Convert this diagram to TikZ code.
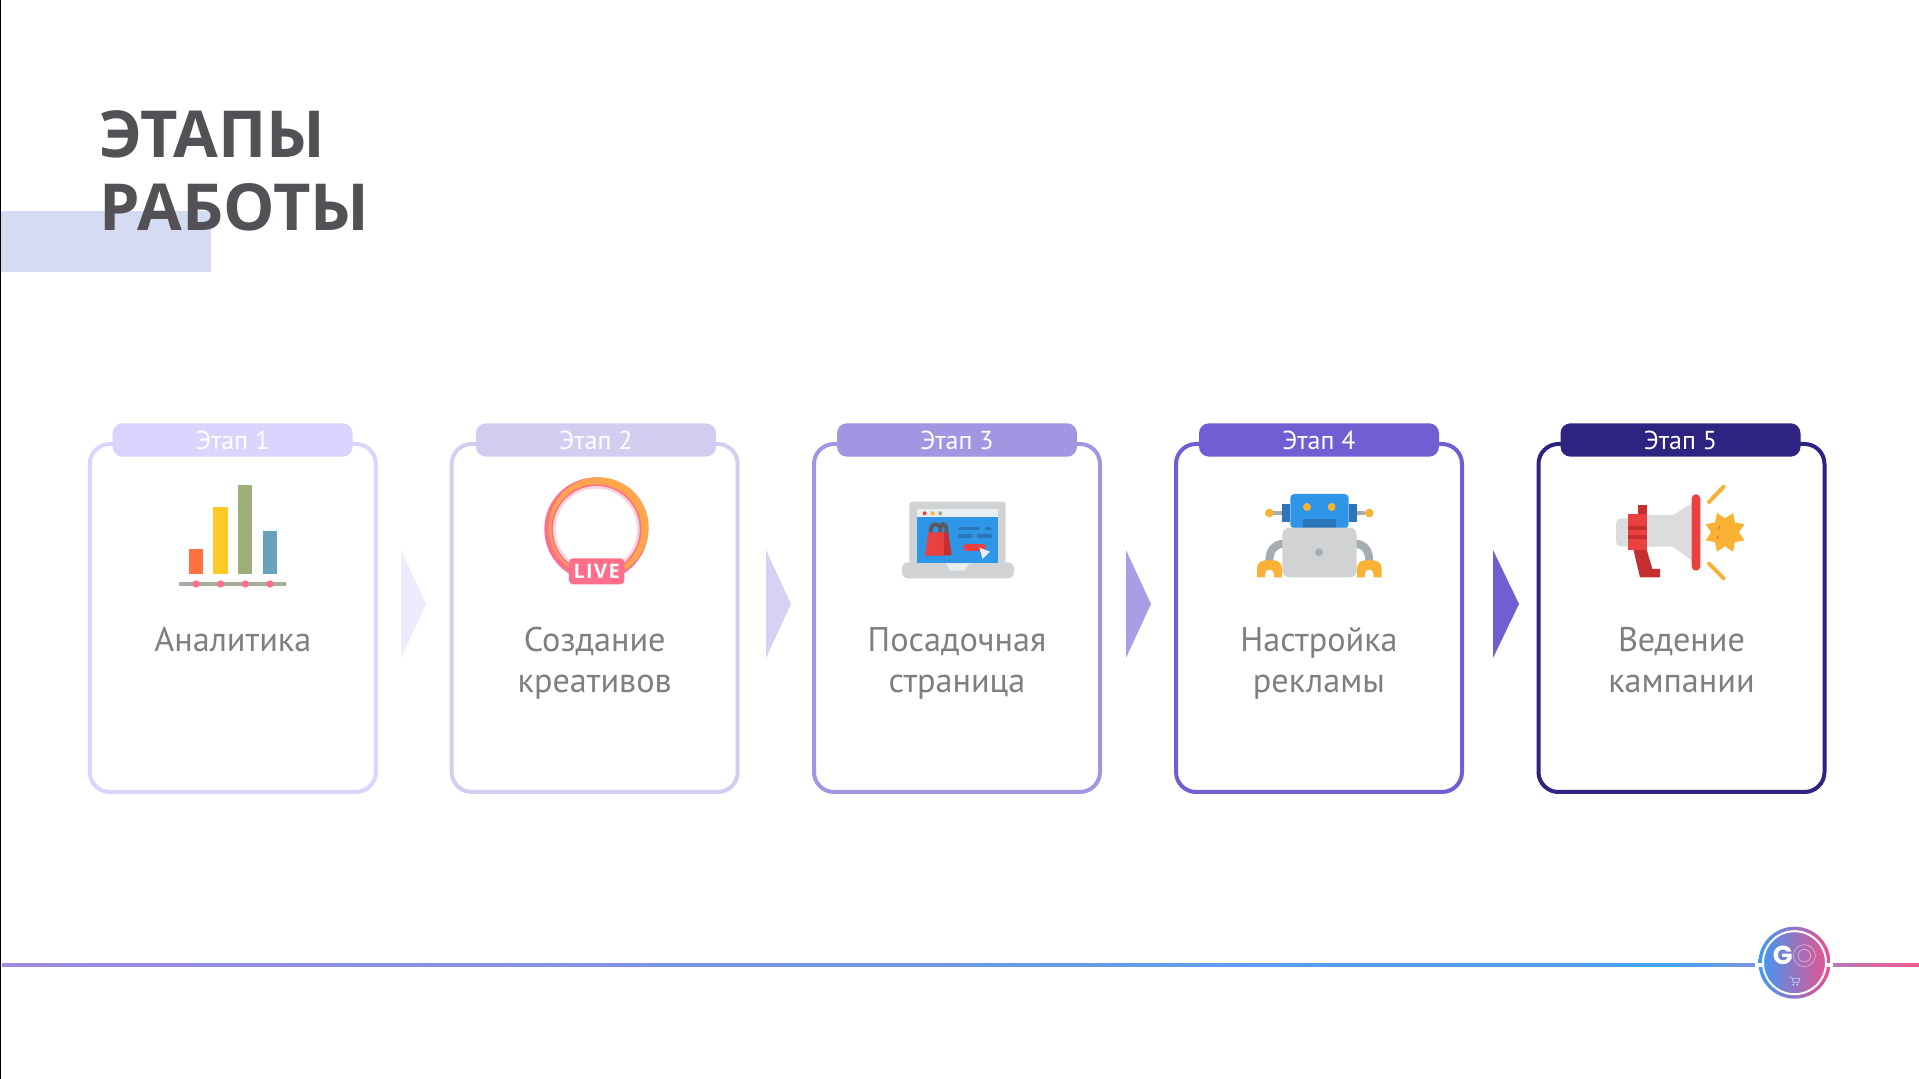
\documentclass[tikz,border=0pt]{standalone}
\usepackage{fontspec}
\setmainfont{PT Sans}
\newfontfamily\headfont{Open Sans}
\newfontfamily\livefont[LetterSpace=7]{Open Sans}
\newfontfamily\logofont{Poppins}
\usetikzlibrary{shapes.geometric}
\definecolor{stepa}{HTML}{DAD4FE}
\definecolor{stepb}{HTML}{D2CEF2}
\definecolor{stepc}{HTML}{A296E2}
\definecolor{stepd}{HTML}{6F5FD2}
\definecolor{stepe}{HTML}{2E2380}
\definecolor{arrowa}{HTML}{EEEBFC}
\definecolor{arrowb}{HTML}{D5D2F3}
\definecolor{arrowc}{HTML}{A99DE6}
\definecolor{headtext}{HTML}{535156}
\definecolor{headband}{HTML}{D5DBF3}
\definecolor{captext}{HTML}{7F7F7F}
\definecolor{iconblue}{HTML}{2F95E6}
\definecolor{icondeep}{HTML}{2A76B8}
\definecolor{icongrey}{HTML}{D0D2D4}
\definecolor{iconpale}{HTML}{DADCDE}
\definecolor{iconsheet}{HTML}{E8EEF2}
\definecolor{iconslate}{HTML}{A5ADB0}
\definecolor{iconorange}{HTML}{F9B233}
\definecolor{iconred}{HTML}{EA4040}
\definecolor{icondark}{HTML}{C62F2F}
\definecolor{iconhandle}{HTML}{5A5A60}
\definecolor{barorange}{HTML}{FF7043}
\definecolor{baryellow}{HTML}{FFCA28}
\definecolor{bargreen}{HTML}{9CAF78}
\definecolor{barblue}{HTML}{6AA2BC}
\definecolor{baraxis}{HTML}{A5AFA0}
\definecolor{livepink}{HTML}{FF6F8B}
\definecolor{liveorange}{HTML}{FFA64D}
\definecolor{livepale}{HTML}{F8D3D8}
\definecolor{rulestart}{HTML}{A08ADF}
\definecolor{rulemid}{HTML}{46A3F2}
\definecolor{ruleend}{HTML}{7D93DD}
\definecolor{ruleright}{HTML}{B87AB8}
\definecolor{ruletail}{HTML}{F25A8C}
\definecolor{logoleft}{HTML}{3B9BF8}
\definecolor{logomid}{HTML}{2460E8}
\definecolor{logoright}{HTML}{EE4F8A}
\definecolor{logoline}{HTML}{F3C3DA}
\definecolor{logocart}{HTML}{BFDCFF}
\begin{document}
\begin{tikzpicture}[x=0.5pt,y=-0.5pt]
	\tikzstyle{card}=[rectangle,rounded corners=10pt,line width=2pt,fill=white,minimum width=143pt,minimum height=174pt,inner sep=0pt]
	\tikzstyle{tab}=[rectangle,rounded corners=5pt,minimum width=120pt,minimum height=16.7pt,inner sep=0pt,text=white,font=\fontsize{13}{15}\selectfont]
	\tikzstyle{caption}=[anchor=base,align=center,inner sep=0pt,text=captext,font=\fontsize{17.1}{20.6}\selectfont]
	\tikzstyle{headline}=[anchor=base west,inner sep=0pt,text=headtext,font=\headfont\bfseries\fontsize{32.4}{36}\selectfont]
	\useasboundingbox (0,0) rectangle (1919,1079);
	\fill[white] (0,0) rectangle (1919,1079);
	\fill[black] (0,0) rectangle (1.4,1079);
	% heading
	\fill[headband] (1.4,210.7) rectangle (211,271.7);
	\node [headline] (head1) at (99.5,157.7) {ЭТАПЫ};
	\node [headline] (head2) at (99.5,231) {РАБОТЫ};
	% cards
	\node [card,draw=stepa] (card1) at (232.8,618) {};
	\node [card,draw=stepb] (card2) at (594.7,618) {};
	\node [card,draw=stepc] (card3) at (957,618) {};
	\node [card,draw=stepd] (card4) at (1319,618) {};
	\node [card,draw=stepe] (card5) at (1681.5,618) {};
	\node [tab,fill=stepa] (tab1) at (232.7,440) {Этап 1};
	\node [tab,fill=stepb] (tab2) at (596,440) {Этап 2};
	\node [tab,fill=stepc] (tab3) at (957,440) {Этап 3};
	\node [tab,fill=stepd] (tab4) at (1319,440) {Этап 4};
	\node [tab,fill=stepe] (tab5) at (1680.5,440) {Этап 5};
	\node [caption] (text1) at (232.8,651.3) {Аналитика};
	\node [caption] (text2) at (594.7,692.3) {Создание\\креативов};
	\node [caption] (text3) at (957,692.3) {Посадочная\\страница};
	\node [caption] (text4) at (1319,692.3) {Настройка\\рекламы};
	\node [caption] (text5) at (1681.5,692.3) {Ведение\\кампании};
	% arrows
	\fill[arrowa] (401,550) -- (426,604) -- (401,658) -- cycle;
	\fill[arrowb] (766,550) -- (791,604) -- (766,658) -- cycle;
	\fill[arrowc] (1126,550) -- (1151,604) -- (1126,658) -- cycle;
	\fill[stepd] (1493,550) -- (1519,604) -- (1493,658) -- cycle;
	% chart icon
	\begin{scope}[shift={(150,470)},scale=0.3333]
		\fill[barorange] (117,237) rectangle (158,311);
		\fill[baryellow] (190,110) rectangle (233,311);
		\fill[bargreen] (265,46) rectangle (307,311);
		\fill[barblue] (339,184) rectangle (382,311);
		\draw[line width=1.7pt,line cap=round,color=baraxis] (91,342) -- (405,342);
		\fill[livepink] (138,342) circle (11);
		\fill[livepink] (212,342) circle (11);
		\fill[livepink] (286,342) circle (11);
		\fill[livepink] (360,342) circle (11);
	\end{scope}
	% live icon
	\begin{scope}[shift={(510,470)},scale=0.3333]
		\fill[livepink] (259,178) circle (156);
		\fill[liveorange] (266,172) circle (150);
		\fill[livepink] (259,178) circle (135);
		\fill[livepale] (259,178) circle (130);
		\fill[white] (259,178) circle (122);
		\node [rectangle,rounded corners=2pt,fill=livepink,minimum width=27.7pt,minimum height=13pt,inner sep=0pt,text=white,font=\livefont\bfseries\fontsize{10}{12}\selectfont] (live) at (260,304) {LIVE};
	\end{scope}
	% laptop icon
	\begin{scope}[shift={(860,470)},scale=0.3333]
		\fill[icongrey,rounded corners=1.5pt] (148,280) -- (148,95) -- (437,95) -- (437,280) -- cycle;
		\fill[icongrey,rounded corners=3pt] (126,277) -- (462,277) -- (462,325) -- (126,325) -- cycle;
		\fill[iconsheet] (258,280) -- (328,280) -- (315,302) -- (270,302) -- cycle;
		\fill[iconsheet] (172,118) rectangle (413,142);
		\fill[iconblue] (172,142) rectangle (413,280);
		\fill[iconred] (194,130) circle (6);
		\fill[iconorange] (218,130) circle (6);
		\fill[bargreen] (241,130) circle (6);
		\draw[line width=2pt,color=iconhandle] (213,190) -- (213,175) arc (180:360:14 and 12) -- (241,190);
		\draw[line width=2pt,color=iconhandle] (241,175) arc (180:360:9 and 12) -- (259,190);
		\fill[iconred] (205,187) -- (252,187) -- (252,257) -- (195,257) -- cycle;
		\fill[icondark] (252,187) -- (265,187) -- (275,255) -- (252,257) -- cycle;
		\draw[line width=1.8pt,line cap=round,color=icondeep] (299,175) -- (355,175);
		\draw[line width=1.8pt,line cap=round,color=icondeep] (380,175) -- (391,175);
		\draw[line width=1.8pt,line cap=round,color=icondeep] (299,198) -- (333,198);
		\draw[line width=1.8pt,line cap=round,color=icondeep] (355,198) -- (391,198);
		\draw[line width=3.4pt,line cap=round,color=iconred] (320,232) -- (368,232);
		\fill[iconsheet] (358,233) -- (390,245) -- (368,267) -- cycle;
	\end{scope}
	% robot icon
	\begin{scope}[shift={(1230,470)},scale=0.3333]
		\fill[iconslate] (130,122) rectangle (155,136);
		\fill[iconslate] (381,122) rectangle (405,136);
		\fill[iconorange] (118,129) circle (13);
		\fill[iconorange] (418,129) circle (13);
		\fill[icondeep] (155,103) rectangle (181,155);
		\fill[icondeep] (356,103) rectangle (381,155);
		\fill[iconblue,rounded corners=2pt] (181,175) -- (181,72) -- (356,72) -- (356,175) -- cycle;
		\fill[iconorange] (231,111) circle (12);
		\fill[iconorange] (305,111) circle (12);
		\fill[icondeep] (219,148) rectangle (318,175);
		\draw[line width=4pt,color=iconslate] (160,221) .. controls (130,224) and (118,245) .. (118,275);
		\draw[line width=4pt,color=iconslate] (377,221) .. controls (407,224) and (418,245) .. (418,275);
		\fill[icongrey,rounded corners=3.5pt] (157,173) -- (380,173) -- (380,322) -- (157,322) -- cycle;
		\fill[iconslate] (267,247) circle (12);
		\fill[iconorange] (81,322) -- (81,295) arc (180:270:24) -- (132,271) arc (270:360:24) -- (156,322) -- (132,322) -- (132,312) arc (360:180:13.5) -- (105,322) -- cycle;
		\fill[iconorange] (381,322) -- (381,295) arc (180:270:24) -- (431,271) arc (270:360:24) -- (455,322) -- (431,322) -- (431,312) arc (360:180:13.5) -- (405,322) -- cycle;
	\end{scope}
	% horn icon
	\begin{scope}[shift={(1590,470)},scale=0.3333]
		\fill[iconpale,rounded corners=2.5pt] (125,145) -- (78,145) -- (78,230) -- (125,230) -- cycle;
		\fill[iconpale] (120,135) -- (250,135) -- (305,100) -- (305,272) -- (250,230) -- (120,230) -- cycle;
		\fill[icondark] (143,105) rectangle (170,135);
		\fill[icondark] (130,238) -- (170,238) -- (187,297) -- (210,297) -- (210,322) -- (150,322) -- cycle;
		\fill[iconred] (115,133) rectangle (170,240);
		\fill[icondark] (115,168) rectangle (170,180);
		\fill[icondark] (115,195) rectangle (170,208);
		\fill[iconred,rounded corners=2.1pt] (305,73) rectangle (331,302);
		\draw[line width=2pt,line cap=round,color=iconorange] (357,96) -- (401,50);
		\draw[line width=2pt,line cap=round,color=iconorange] (357,281) -- (401,325);
		\node [star,star points=8,star point ratio=1.5,rotate=22.5,fill=iconorange,minimum size=21pt,inner sep=0pt] (burst) at (405,187) {};
		\draw[line width=0.3pt,color=iconred] (389,168) -- (385,178);
		\draw[line width=0.3pt,color=iconred] (385,198) -- (381,207);
	\end{scope}
	% baseline
	\shade[left color=rulestart,right color=rulemid] (2,963.3) rectangle (1680,966.7);
	\shade[left color=rulemid,right color=ruleend] (1680,963.3) rectangle (1755,966.7);
	\shade[left color=ruleright,right color=ruletail] (1832.7,963.3) rectangle (1919,966.7);
	% logo
	\node [circle,minimum size=36pt,inner sep=0pt,left color=logoleft,middle color=logomid,right color=logoright] (logo) at (1794.5,962.7) {};
	\draw[line width=1pt,color=white] (logo.center) circle (31.5);
	\fill[white] (1755,962.7) rectangle (1763,967.3);
	\fill[white] (1826,962.7) rectangle (1833,967.3);
	\begin{scope}[shift={(1720,910)},scale=0.3333]
		\node [text=white,inner sep=0pt,font=\logofont\bfseries\fontsize{13}{15}\selectfont] (logog) at (188,137) {G};
		\draw[line width=0.25pt,color=logoline] (253,137) circle (33);
		\draw[line width=0.25pt,color=logoline] (253,137) circle (19);
		\draw[line width=0.3pt,color=logocart] (208,200) -- (215,203) -- (220,218) -- (235,218) -- (240,205) -- (216,205);
		\fill[logocart] (220,224) circle (3);
		\fill[logocart] (232,224) circle (3);
	\end{scope}
\end{tikzpicture}
\end{document}
